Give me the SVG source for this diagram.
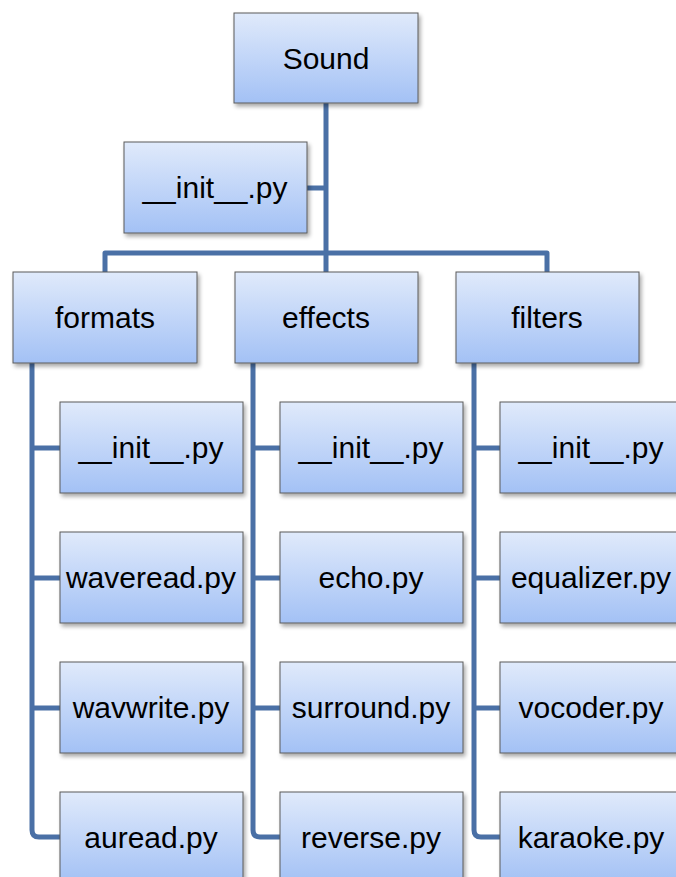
<svg xmlns="http://www.w3.org/2000/svg" width="676" height="877" viewBox="0 0 676 877">
<defs>
<linearGradient id="g" x1="0" y1="0" x2="0" y2="1">
<stop offset="0" stop-color="#e0eafb"/>
<stop offset="1" stop-color="#a3c1f5"/>
</linearGradient>
<filter id="sh" x="-10%" y="-10%" width="130%" height="130%">
<feGaussianBlur in="SourceAlpha" stdDeviation="2"/>
<feOffset dx="2" dy="3"/>
<feComponentTransfer><feFuncA type="linear" slope="0.35"/></feComponentTransfer>
<feMerge><feMergeNode/><feMergeNode in="SourceGraphic"/></feMerge>
</filter>
</defs>
<style>
.box{fill:url(#g);stroke:#5a5a5a;stroke-width:1;filter:url(#sh)}
.t{font-family:"Liberation Sans",Arial,sans-serif;font-size:30px;fill:#000;text-anchor:middle}
.c{fill:none;stroke:#4a70a6;stroke-width:5;stroke-linejoin:round}
</style>
<rect width="676" height="877" fill="#fff"/>
<g id="connectors">
<path class="c" d="M326 103 V272"/>
<path class="c" d="M307 188 H326"/>
<path class="c" d="M105 272 V253 H547 V272"/>
<path class="c" d="M32 363 V830 Q32 837 39 837 H60"/>
<path class="c" d="M32 448 H60 M32 578 H60 M32 708 H60"/>
<path class="c" d="M253 363 V830 Q253 837 260 837 H280"/>
<path class="c" d="M253 448 H280 M253 578 H280 M253 708 H280"/>
<path class="c" d="M474 363 V830 Q474 837 481 837 H500"/>
<path class="c" d="M474 448 H500 M474 578 H500 M474 708 H500"/>
</g>
<g id="sound"><rect class="box" x="234" y="13" width="184" height="90"/><text class="t" x="326" y="69">Sound</text></g>
<g id="init_root"><rect class="box" x="124" y="142" width="183" height="91"/><text class="t" x="215" y="198">__init__.py</text></g>
<g id="formats"><rect class="box" x="13" y="272" width="184" height="91"/><text class="t" x="105" y="328">formats</text></g>
<g id="effects"><rect class="box" x="235" y="272" width="183" height="91"/><text class="t" x="326" y="328">effects</text></g>
<g id="filters"><rect class="box" x="456" y="272" width="183" height="91"/><text class="t" x="547" y="328">filters</text></g>
<g id="formats_init"><rect class="box" x="60" y="402" width="183" height="91"/><text class="t" x="151" y="458">__init__.py</text></g>
<g id="waveread"><rect class="box" x="60" y="532" width="183" height="91"/><text class="t" x="151" y="588">waveread.py</text></g>
<g id="wavwrite"><rect class="box" x="60" y="662" width="183" height="91"/><text class="t" x="151" y="718">wavwrite.py</text></g>
<g id="auread"><rect class="box" x="60" y="792" width="183" height="91"/><text class="t" x="151" y="848">auread.py</text></g>
<g id="effects_init"><rect class="box" x="280" y="402" width="183" height="91"/><text class="t" x="371" y="458">__init__.py</text></g>
<g id="echo"><rect class="box" x="280" y="532" width="183" height="91"/><text class="t" x="371" y="588">echo.py</text></g>
<g id="surround"><rect class="box" x="280" y="662" width="183" height="91"/><text class="t" x="371" y="718">surround.py</text></g>
<g id="reverse"><rect class="box" x="280" y="792" width="183" height="91"/><text class="t" x="371" y="848">reverse.py</text></g>
<g id="filters_init"><rect class="box" x="500" y="402" width="183" height="91"/><text class="t" x="591" y="458">__init__.py</text></g>
<g id="equalizer"><rect class="box" x="500" y="532" width="183" height="91"/><text class="t" x="591" y="588">equalizer.py</text></g>
<g id="vocoder"><rect class="box" x="500" y="662" width="183" height="91"/><text class="t" x="591" y="718">vocoder.py</text></g>
<g id="karaoke"><rect class="box" x="500" y="792" width="183" height="91"/><text class="t" x="591" y="848">karaoke.py</text></g>
</svg>
